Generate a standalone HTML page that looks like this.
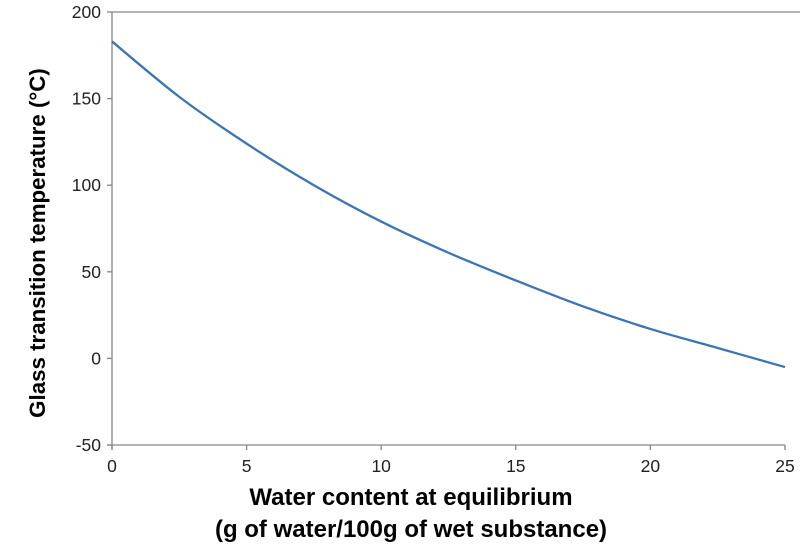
<!DOCTYPE html>
<html><head><meta charset="utf-8"><style>
body{margin:0;background:#fff}
svg{display:block;font-family:"Liberation Sans",Arial,sans-serif}
</style></head><body>
<svg id="chart" width="800" height="555" viewBox="0 0 800 555">
<g id="axes"></g>
<g id="series"></g>
<text transform="translate(45,243) rotate(-90)" text-anchor="middle" font-size="22.3" font-weight="bold" fill="#000">Glass transition temperature (°C)</text>
<text x="411" y="505" text-anchor="middle" font-size="24" font-weight="bold" fill="#000">Water content at equilibrium</text>
<text x="411" y="537" text-anchor="middle" font-size="24" font-weight="bold" fill="#000">(g of water/100g of wet substance)</text>
</svg>
<script>
const xTicks=[0,5,10,15,20,25];
const yTicks=[-50,0,50,100,150,200];
const waterContent=[0,2.5,5,7.5,10,12.5,15,17.5,20,22.5,25];
const tgValues=[183,151,124,100,79,61,45,30,17,6,-5];
const X0=112,X1=785,Y0=445,Y1=12;
function xs(v){return X0+(v-0)/(25-0)*(X1-X0);}
function ys(v){return Y0-(v+50)/(250)*(Y0-Y1);}
const NS="http://www.w3.org/2000/svg";
const ax=document.getElementById('axes'),se=document.getElementById('series');
function mk(tag,attrs,parent){const e=document.createElementNS(NS,tag);for(const k in attrs)e.setAttribute(k,attrs[k]);parent.appendChild(e);return e;}
let l=mk('line',{x1:X0,y1:Y1,x2:X0,y2:Y0+5,stroke:'#868686','stroke-width':1.3},ax);


l=mk('line',{x1:X0-5,y1:Y0,x2:X1,y2:Y0,stroke:'#868686','stroke-width':1.3},ax);


l=mk('line',{x1:X0,y1:Y1,x2:800,y2:Y1,stroke:'#868686','stroke-width':1.3},ax);


yTicks.forEach(v=>{
  const t=mk('line',{x1:X0-5,x2:X0,y1:ys(v),y2:ys(v),stroke:'#868686','stroke-width':1.3},ax);
  
  
  const tx=mk('text',{x:X0-11,y:ys(v)+6,'text-anchor':'end','font-size':17.5,fill:'#222'},ax);
  tx.textContent=v;
  
  
});
xTicks.forEach(v=>{
  const t=mk('line',{x1:xs(v),x2:xs(v),y1:Y0,y2:Y0+5,stroke:'#868686','stroke-width':1.3},ax);
  
  
  const tx=mk('text',{x:xs(v),y:Y0+27,'text-anchor':'middle','font-size':17.5,fill:'#222'},ax);
  tx.textContent=v;
  
  
});
const P=waterContent.map((w,i)=>[xs(w),ys(tgValues[i])]);
let d='M'+P[0][0]+','+P[0][1];
for(let i=0;i<P.length-1;i++){
  const p0=P[Math.max(i-1,0)],p1=P[i],p2=P[i+1],p3=P[Math.min(i+2,P.length-1)];
  const c1=[p1[0]+(p2[0]-p0[0])/6,p1[1]+(p2[1]-p0[1])/6];
  const c2=[p2[0]-(p3[0]-p1[0])/6,p2[1]-(p3[1]-p1[1])/6];
  d+=` C${c1[0]},${c1[1]} ${c2[0]},${c2[1]} ${p2[0]},${p2[1]}`;
}
const path=mk('path',{d:d,fill:'none',stroke:'#3a75b5','stroke-width':2.3},se);


</script>
</body></html>
